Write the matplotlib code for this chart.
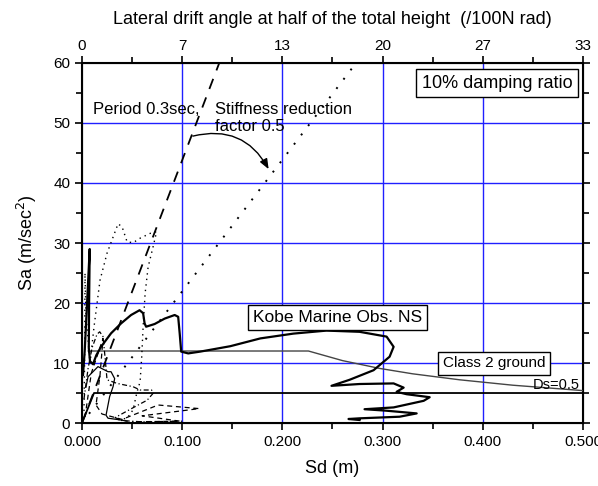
import numpy as np
import matplotlib
matplotlib.use("Agg")
import matplotlib.pyplot as plt
from matplotlib.ticker import MultipleLocator, FormatStrFormatter

plt.rcParams['font.family'] = ['Liberation Sans', 'DejaVu Sans']

# Periodo 0.3 s e rigidez reduzida (retas)
period_sd = [0.0, 0.137]
period_sa = [0.0, 60.0]
reduced_sd = [0.0, 0.2735]
reduced_sa = [0.0, 60.0]

# Espectro Kobe Marine Obs. NS (amortecimento 10%)
kobe_sd = [0.001, 0.0027, 0.0045, 0.0077, 0.0071, 0.0068, 0.008, 0.011, 0.0143, 0.019,
           0.029, 0.039, 0.049, 0.0575, 0.061, 0.0625, 0.064, 0.0725, 0.0825, 0.0925,
           0.096, 0.0975, 0.099, 0.106, 0.118, 0.148, 0.178, 0.211, 0.244, 0.277,
           0.304, 0.311, 0.307, 0.291, 0.267, 0.249, 0.277, 0.311, 0.321, 0.314,
           0.324, 0.347, 0.341, 0.311, 0.282, 0.304, 0.334, 0.317, 0.277, 0.266, 0.277]
kobe_sa = [8.0, 12.0, 18.0, 29.0, 20.0, 12.5, 10.3, 9.8, 11.3, 12.7,
           14.95, 16.6, 18.0, 18.8, 18.3, 16.6, 16.05, 16.5, 17.4, 18.0,
           17.7, 14.95, 11.9, 11.6, 11.9, 12.8, 14.1, 14.9, 15.4, 15.2,
           14.4, 12.7, 11.05, 8.8, 7.2, 6.2, 6.5, 6.6, 5.9, 5.2,
           4.8, 4.3, 3.7, 2.6, 2.3, 2.05, 1.6, 1.05, 0.78, 0.67, 0.5]

# Espectro de projeto, solo classe 2
class2_sd = [0.0063, 0.226, 0.26, 0.297, 0.33, 0.377, 0.43, 0.5]
class2_sa = [12.0, 12.0, 10.4, 9.1, 8.2, 7.2, 6.3, 5.4]

# Capacidade Ds=0.5
ds_sd = [0.0, 0.012, 0.5]
ds_sa = [0.0, 5.0, 5.0]

# Respostas dos modelos
dot_sd = [0.002, 0.0027, 0.003, 0.004, 0.008, 0.012, 0.018, 0.025, 0.036, 0.040,
          0.045, 0.051, 0.058, 0.068, 0.0745, 0.071, 0.066, 0.063, 0.061, 0.0596,
          0.058, 0.0546, 0.051, 0.045, 0.035]
dot_sa = [2.0, 12.0, 25.0, 18.0, 10.0, 16.0, 23.8, 28.3, 33.2, 32.7,
          30.2, 30.05, 30.8, 31.6, 31.9, 29.4, 26.0, 21.6, 16.0, 11.0,
          6.9, 4.95, 2.2, 0.8, 0.5]

dashdot_sd = [0.002, 0.006, 0.010, 0.015, 0.0177, 0.021, 0.023, 0.025, 0.035, 0.051,
              0.058, 0.0695, 0.071, 0.065, 0.056, 0.045, 0.033, 0.040, 0.060, 0.100]
dashdot_sa = [4.0, 9.0, 12.5, 14.8, 15.2, 14.4, 11.0, 7.2, 6.6, 6.05,
              5.5, 5.5, 4.95, 3.8, 3.0, 2.0, 0.9, 0.4, 0.2, 0.3]

dash_sd = [0.003, 0.0093, 0.016, 0.021, 0.018, 0.014, 0.020, 0.040, 0.076, 0.117,
           0.060, 0.098, 0.050]
dash_sa = [1.0, 8.3, 11.6, 14.1, 8.0, 3.0, 1.5, 0.6, 3.0, 2.4,
           1.2, 0.3, 0.2]

thin_sd = [0.004, 0.006, 0.016, 0.026, 0.029, 0.0326, 0.031, 0.0276, 0.024, 0.026,
           0.039, 0.045]
thin_sa = [6.0, 7.7, 9.4, 8.55, 8.55, 7.4, 6.05, 4.4, 1.3, 0.8,
           0.5, 0.3]

x_ticks = [0.0, 0.1, 0.2, 0.3, 0.4, 0.5]
top_labels = ['0', '7', '13', '20', '27', '33']

fig = plt.figure(figsize=(5.98, 4.86), dpi=100)
ax = fig.add_axes([0.1371, 0.1296, 0.8378, 0.7408])

# Linhas de grade azuis
for xv in x_ticks[1:-1]:
    ax.axvline(xv, color='#2020ff', lw=1.0, zorder=1)
for yv in [10, 20, 30, 40, 50]:
    ax.axhline(yv, color='#2020ff', lw=1.0, zorder=1)

ax.plot(period_sd, period_sa, color='black', lw=1.3, dashes=(6, 5), zorder=3)
ax.plot(reduced_sd, reduced_sa, color='black', lw=1.4, dashes=(1, 5), zorder=3)
ax.plot(class2_sd, class2_sa, color='#444444', lw=1.0, zorder=3)
ax.plot(ds_sd, ds_sa, color='black', lw=1.3, zorder=3)
ax.plot(dot_sd, dot_sa, color='black', lw=1.0, dashes=(1, 3), zorder=3)
ax.plot(dashdot_sd, dashdot_sa, color='black', lw=0.9, dashes=(4, 2, 1, 2), zorder=3)
ax.plot(dash_sd, dash_sa, color='black', lw=0.9, dashes=(4, 3), zorder=3)
ax.plot(thin_sd, thin_sa, color='black', lw=0.9, zorder=3)
ax.plot(kobe_sd, kobe_sa, color='black', lw=1.6, zorder=4)

# Seta da reducao de rigidez
ax.annotate('', xy=(0.1876, 41.9), xytext=(0.108, 47.7),
            arrowprops=dict(arrowstyle='-|>,head_length=0.5,head_width=0.2',
                            color='black', lw=1.0, mutation_scale=12,
                            connectionstyle='arc3,rad=-0.4'), zorder=5)

ax.text(0.011, 52.2, 'Period 0.3sec,', fontsize=12, va='center', ha='left')
ax.text(0.133, 50.8, 'Stiffness reduction\nfactor 0.5', fontsize=12, va='center',
        ha='left', linespacing=1.15)

box = dict(boxstyle='square,pad=0.3', facecolor='white', edgecolor='black', lw=1.0)
ax.text(0.414, 56.6, '10% damping ratio', fontsize=13, ha='center', va='center',
        bbox=box, zorder=6)
ax.text(0.255, 17.6, 'Kobe Marine Obs. NS', fontsize=12.5, ha='center', va='center',
        bbox=box, zorder=6)
ax.text(0.411, 9.95, 'Class 2 ground', fontsize=11, ha='center', va='center',
        bbox=box, zorder=6)
ax.text(0.497, 6.3, 'Ds=0.5', fontsize=10.5, ha='right', va='center', zorder=6)

ax.set_xlim(0, 0.5)
ax.set_ylim(0, 60)
ax.set_xticks(x_ticks)
ax.xaxis.set_major_formatter(FormatStrFormatter('%.3f'))
ax.xaxis.set_minor_locator(MultipleLocator(0.05))
ax.yaxis.set_major_locator(MultipleLocator(10))
ax.yaxis.set_minor_locator(MultipleLocator(5))
ax.tick_params(which='both', direction='out', width=1.2, labelsize=11, right=True)
ax.tick_params(which='major', length=5)
ax.tick_params(which='minor', length=4)
ax.set_xlabel('Sd (m)', fontsize=13, labelpad=8)
ax.set_ylabel('Sa (m/sec$^2$)', fontsize=13, labelpad=10)
for s in ax.spines.values():
    s.set_linewidth(1.5)

# Eixo superior: angulo de deriva
ax2 = ax.twiny()
ax2.set_xlim(0, 0.5)
ax2.set_xticks(x_ticks)
ax2.set_xticklabels(top_labels)
ax2.xaxis.set_minor_locator(MultipleLocator(0.05))
ax2.tick_params(which='both', direction='out', width=1.2, labelsize=11, pad=2)
ax2.tick_params(which='major', length=5)
ax2.tick_params(which='minor', length=4)
ax2.set_xlabel('Lateral drift angle at half of the total height  (/100N rad)',
               fontsize=13, labelpad=11)

plt.savefig('out.png', dpi=100)
